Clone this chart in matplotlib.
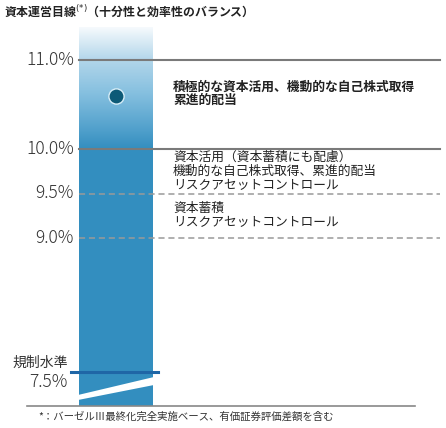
import numpy as np
import matplotlib
matplotlib.use("Agg")
import matplotlib.pyplot as plt
from matplotlib.colors import LinearSegmentedColormap
from matplotlib.patches import Polygon

plt.rcParams['font.family'] = ['Noto Sans CJK JP', 'DejaVu Sans']

# ---- data ----
levels = [11.0, 10.0, 9.5, 9.0]
level_labels = ["11.0%", "10.0%", "9.5%", "9.0%"]
level_styles = ["solid", "solid", "dashed", "dashed"]
target_point = 10.6
reg_level = 7.5
reg_label = ["規制水準", "7.5%"]
bar_top = 11.36
bar_bottom = 7.11
zone_texts = [
    (10.62, "積極的な資本活用、機動的な自己株式取得\n累進的配当", "bold"),
    (9.75, "資本活用（資本蓄積にも配慮）\n機動的な自己株式取得、累進的配当\nリスクアセットコントロール", "normal"),
    (9.25, "資本蓄積\nリスクアセットコントロール", "normal"),
]
title = "資本運営目線$^{(*)}$（十分性と効率性のバランス）"
note = "*：バーゼルⅢ最終化完全実施ベース、有価証券評価差額を含む"

W, H = 446, 428
px_per_pt = 89.0          # pixels per 1 percentage point
y11 = 60.0                # pixel row of 11.0%

fig = plt.figure(figsize=(W / 100, H / 100), dpi=100)
ax = fig.add_axes([0, 0, 1, 1])
ax.set_xlim(0, W)
ax.set_ylim(11 - (H - y11) / px_per_pt, 11 + y11 / px_per_pt)
ax.axis("off")

bx0, bx1 = 79, 153
blue = "#338ebf"


def v(py):
    return 11 - (py - y11) / px_per_pt


# solid lower part of the bar, gradient upper part (fades to white at top)
ax.fill_between([bx0, bx1], bar_bottom, 10.0, color=blue, lw=0, zorder=1)
cmap = LinearSegmentedColormap.from_list(
    "g", [(0.0, "#f6fafd"), (0.27, "#b2d6ea"), (0.55, "#84bfdf"),
          (0.85, "#4f9fcb"), (1.0, blue)])
grad = np.linspace(0, 1, 256).reshape(-1, 1)
ax.imshow(grad, cmap=cmap, aspect="auto", origin="upper",
          extent=[bx0, bx1, 10.0, bar_top], interpolation="bilinear",
          vmin=0, vmax=1, zorder=1)

# break mark (white slanted band)
brk = Polygon([(bx0 - 1, v(395)), (bx1 + 1, v(377)), (bx1 + 1, v(385)), (bx0 - 1, v(400))],
              closed=True, facecolor="white", edgecolor="none", zorder=2)
ax.add_patch(brk)

# level lines and labels
for lv, lab, st in zip(levels, level_labels, level_styles):
    if st == "solid":
        ax.plot([bx0, 440], [lv, lv], color="#7a7a7a", lw=1.5, zorder=3)
    else:
        ax.plot([bx0, 440], [lv, lv], color="#9a9a9a", lw=1.1,
                dashes=(4, 2.5), zorder=3)
    ax.text(74, lv, lab, ha="right", va="center", fontsize=12.5,
            color="#333333", fontweight="light")

# regulatory line
ax.plot([71, 158], [reg_level, reg_level], color="#1f66a6", lw=2.2, zorder=4)
ax.text(68, v(363), reg_label[0], ha="right", va="center", fontsize=10,
        color="#333333")
ax.text(68, v(382), reg_label[1], ha="right", va="center", fontsize=12.5,
        color="#333333", fontweight="light")

# target point
ax.scatter([116], [target_point], s=120, color="#0d5a77", edgecolor="#d8eef8",
           linewidth=1.0, zorder=5)

# zone descriptions
for yv, txt, wt in zone_texts:
    ax.text(173, yv, txt, ha="left", va="center", fontsize=9.2,
            color="#222222", fontweight=wt, linespacing=1.1)

# baseline
ax.plot([27, 415], [v(406), v(406)], color="#888888", lw=1.2, zorder=3)

# title and note
ax.text(4, v(12), title, ha="left", va="center", fontsize=8.6,
        fontweight="bold", color="#222222")
ax.text(38, v(417), note, ha="left", va="center", fontsize=7.5,
        color="#333333")

fig.savefig("out.png", dpi=100)
